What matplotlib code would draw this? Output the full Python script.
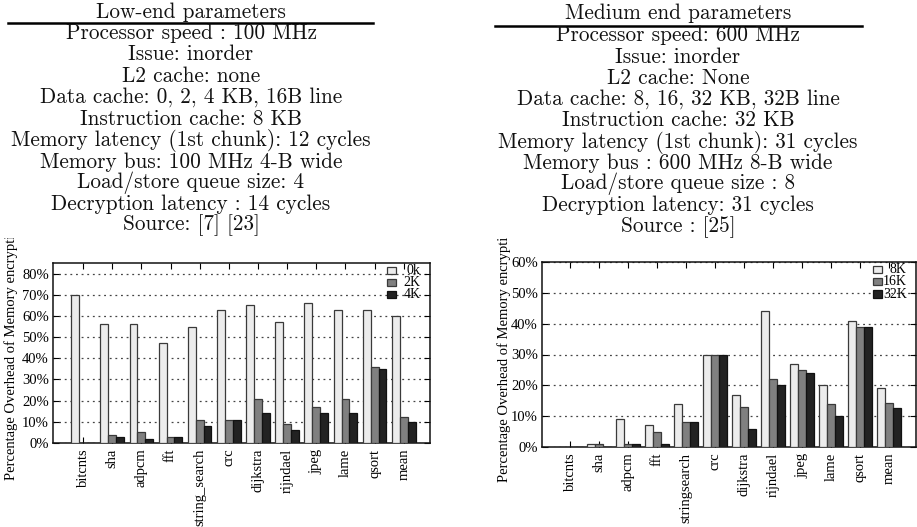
import numpy as np
import matplotlib
matplotlib.use("Agg")
import matplotlib.pyplot as plt
from matplotlib.lines import Line2D
from matplotlib.patches import Rectangle
from matplotlib.transforms import Bbox, TransformedBbox

benchmarks_low = ["bitcnts", "sha", "adpcm", "fft", "string_search", "crc",
                  "dijkstra", "rijndael", "jpeg", "lame", "qsort", "mean"]
benchmarks_med = ["bitcnts", "sha", "adpcm", "fft", "stringsearch", "crc",
                  "dijkstra", "rijndael", "jpeg", "lame", "qsort", "mean"]

# overhead in percent, low-end config (cache size 0k / 2K / 4K)
low_0k = [70, 56, 56, 47, 55, 63, 65, 57, 66, 63, 63, 60]
low_2k = [0.2, 4, 5, 3, 11, 11, 21, 9, 17, 21, 36, 12.4]
low_4k = [0.2, 3, 2, 3, 8, 11, 14, 6, 14, 14, 35, 10]
low_labels = ["0k", "2K", "4K"]

# overhead in percent, medium-end config (cache size 8K / 16K / 32K)
med_8k = [0.1, 1, 9, 7, 14, 30, 17, 44, 27, 20, 41, 19]
med_16k = [0.1, 1, 1, 5, 8, 30, 13, 22, 25, 14, 39, 14.4]
med_32k = [0.1, 0.1, 1, 1, 8, 30, 6, 20, 24, 10, 39, 12.7]
med_labels = ["8K", "16K", "32K"]

low_params = ["Processor speed : 100 MHz", "Issue: inorder", "L2 cache: none",
              "Data cache: 0, 2, 4 KB, 16B line", "Instruction cache: 8 KB",
              "Memory latency (1st chunk): 12 cycles",
              "Memory bus: 100 MHz 4-B wide", "Load/store queue size: 4",
              "Decryption latency : 14 cycles", "Source: [7] [23]"]
med_params = ["Processor speed: 600 MHz", "Issue: inorder", "L2 cache: None",
              "Data cache: 8, 16, 32 KB, 32B line", "Instruction cache: 32 KB",
              "Memory latency (1st chunk): 31 cycles",
              "Memory bus : 600 MHz 8-B wide", "Load/store queue size : 8",
              "Decryption latency: 31 cycles", "Source : [25]"]

W, H = 917, 527
colors = ["#ececec", "#808080", "#222222"]
edges = ["#3a3a3a", "#3a3a3a", "#111111"]

plt.rcParams["font.family"] = ["Liberation Serif", "DejaVu Serif"]

fig = plt.figure(figsize=(W / 100, H / 100), dpi=100)


def px_axes(x0, y0, x1, y1):
    # pixel box (top-left origin) -> figure fraction
    return fig.add_axes([x0 / W, 1 - y1 / H, (x1 - x0) / W, (y1 - y0) / H])


def param_block(title, lines, cx, ty, rule, line_y):
    fig.text(cx / W, 1 - ty / H, title, family="cmr10", fontsize=15.3,
             ha="center", va="center", color="#111111")
    fig.add_artist(Line2D([rule[0] / W, rule[1] / W], [1 - rule[2] / H] * 2,
                          transform=fig.transFigure, color="black", lw=1.8))
    for ln, y in zip(lines, line_y):
        fig.text(cx / W, 1 - y / H, ln, family="cmr10", fontsize=15.3,
                 ha="center", va="center", color="#111111")


def bar_chart(ax, names, series, labels, ymax, xlim, leg_x, leg_text_x):
    x = np.arange(len(names))
    w = 0.27
    for i, vals in enumerate(series):
        ax.bar(x + (i - 1) * w, vals, w, color=colors[i], edgecolor=edges[i],
               linewidth=0.9, zorder=3)
    ax.set_xlim(*xlim)
    ax.set_ylim(0, ymax)
    ax.set_yticks(np.arange(0, ymax + 1, 10))
    ax.set_yticklabels([f"{v}%" for v in range(0, int(ymax) + 1, 10)])
    ax.set_xticks(x)
    ax.set_xticklabels(names, rotation=90)
    ax.tick_params(axis="y", direction="in", length=4, labelsize=10.5,
                   right=True, pad=3)
    ax.tick_params(axis="x", direction="in", length=4, labelsize=10.5,
                   top=True, pad=4)
    ax.grid(axis="y", color="#444444", linestyle=(0, (1.5, 3)), lw=0.9,
            zorder=1)
    for s in ax.spines.values():
        s.set_linewidth(1.1)
        s.set_color("#111111")
    # key: boxes left, labels right-justified
    for i, lab in enumerate(labels):
        yy = 0.975 - i * 0.067
        ax.add_patch(Rectangle((leg_x, yy - 0.035), 0.024, 0.04,
                               transform=ax.transAxes, facecolor=colors[i],
                               edgecolor=edges[i], lw=0.9, clip_on=False,
                               zorder=5))
        ax.text(leg_text_x, yy - 0.015, lab, transform=ax.transAxes,
                ha="right", va="center", fontsize=10, zorder=5)


def ylabel(x, y_bottom):
    t = fig.text(x / W, 1 - y_bottom / H,
                 "Percentage Overhead of Memory encryption",
                 rotation=90, ha="center", va="bottom", fontsize=10.5)
    t.set_clip_box(TransformedBbox(Bbox.from_extents(0, 0, 1, 1 - 238 / H),
                                   fig.transFigure))
    t.set_clip_on(True)


param_block("Low-end parameters", low_params, 191, 12, (8, 373, 23),
            [33, 54, 76, 97, 119, 140, 162, 183, 204, 225])
param_block("Medium end parameters", med_params, 678, 13, (495, 862, 26),
            [35, 57, 78, 99, 120, 142, 163, 184, 205, 227])

ax1 = px_axes(53, 263, 430, 443)
bar_chart(ax1, benchmarks_low, [low_0k, low_2k, low_4k], low_labels, 85,
          (-1.03, 11.9), 0.885, 0.975)
ylabel(11, 480)

ax2 = px_axes(542, 262, 916, 447)
bar_chart(ax2, benchmarks_med, [med_8k, med_16k, med_32k], med_labels, 60,
          (-0.97, 11.93), 0.885, 0.975)
ylabel(504, 482)

fig.savefig("out.png", dpi=100)
